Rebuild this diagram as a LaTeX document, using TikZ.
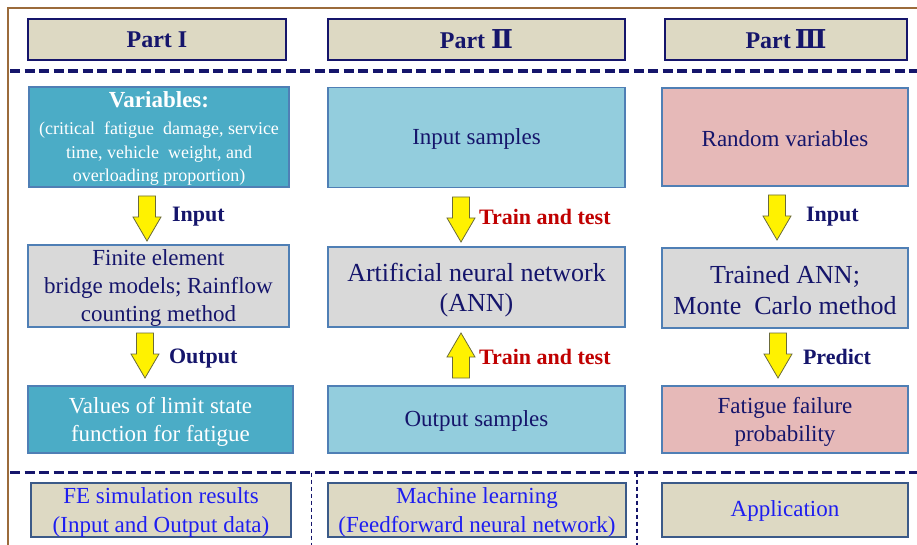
\documentclass[tikz,border=0pt]{standalone}
\usepackage{fontspec}
\setmainfont{Liberation Serif}
\newfontfamily\numfont{DejaVu Serif}
\definecolor{framebrown}{HTML}{9B6B3B}
\definecolor{navy}{HTML}{15156B}
\definecolor{tanfill}{HTML}{DDD9C3}
\definecolor{tealfill}{HTML}{4BACC6}
\definecolor{lightblue}{HTML}{93CDDD}
\definecolor{pinkfill}{HTML}{E6B9B8}
\definecolor{grayfill}{HTML}{D9D9D9}
\definecolor{steel}{HTML}{4F7FB5}
\definecolor{darkred}{HTML}{C00000}
\definecolor{bluetext}{HTML}{1E1EF0}
\definecolor{slateedge}{HTML}{3B5A88}
\definecolor{arrowedge}{HTML}{6B6B3A}
\begin{document}
\begin{tikzpicture}[x=1pt,y=-1pt,
  every node/.style={inner sep=0pt,outer sep=0pt,align=center},
  hdr/.style={draw=navy,line width=2.2pt,fill=tanfill,text=navy,
    font=\fontsize{24}{28}\selectfont\bfseries},
  mainbox/.style={draw=steel,line width=1.1pt,text=navy,
    font=\fontsize{23}{28}\selectfont},
  tealbox/.style={mainbox,fill=tealfill,text=white},
  lbbox/.style={mainbox,fill=lightblue},
  pkbox/.style={mainbox,fill=pinkfill},
  grbox/.style={mainbox,fill=grayfill},
  boxtext/.style={text=navy,font=\fontsize{23}{28}\selectfont},
  botbox/.style={draw=slateedge,line width=2.6pt,fill=tanfill},
  bottext/.style={text=bluetext,font=\fontsize{23}{29}\selectfont},
  lab/.style={anchor=west,text=navy,font=\fontsize{22}{26}\selectfont\bfseries},
  redlab/.style={lab,text=darkred},
  arr/.style={fill=yellow,draw=arrowedge,line width=0.8pt,line join=miter},
  sepline/.style={draw=navy,line width=3.5pt,dash pattern=on 10pt off 4.5pt},
  vsep/.style={draw=navy,line width=1.1pt,dash pattern=on 4pt off 3pt},
  downarr/.pic={\path[arr] (-8.5,0) -- (8.5,0) -- (8.5,21) -- (14,21) -- (0,45)
     -- (-14,21) -- (-8.5,21) -- cycle;},
  uparr/.pic={\path[arr] (-8.5,45) -- (8.5,45) -- (8.5,24) -- (14,24) -- (0,0)
     -- (-14,24) -- (-8.5,24) -- cycle;}
]
\useasboundingbox (0,0) rectangle (917,545);
\clip (0,0) rectangle (917,545);
\fill[white] (0,0) rectangle (917,545);
% outer frame
\draw[framebrown,line width=2pt] (8,8) rectangle (940,570);

% headers
\node[hdr,minimum width=258pt,minimum height=41pt] (h1) at (157,39.5) {Part I};
\node[hdr,minimum width=297pt,minimum height=41pt] (h2) at (476.5,39.5) {Part {\numfont\bfseries\fontsize{26}{28}\selectfont Ⅱ}};
\node[hdr,minimum width=242pt,minimum height=41pt] (h3) at (786,39.5) {Part\,{\numfont\bfseries\fontsize{26}{28}\selectfont Ⅲ}};

% separators
\coordinate (s1l) at (10,71);
\coordinate (s1r) at (917,71);
\coordinate (s2l) at (10,472.5);
\coordinate (s2r) at (917,472.5);
\coordinate (v1t) at (311.5,472.5);
\coordinate (v1b) at (311.5,545);
\coordinate (v2t) at (637,472.5);
\coordinate (v2b) at (637,545);
\draw[sepline] (s1l) -- (s1r);
\draw[sepline] (s2l) -- (s2r);
\draw[vsep] (v1t) -- (v1b);
\draw[vsep] (v2t) -- (v2b);

% row 1
\node[tealbox,minimum width=260pt,minimum height=100pt] (var) at (159,137) {};
\node[text=white,font=\fontsize{23}{26}\selectfont\bfseries,anchor=base] (vart) at (159,108) {Variables:};
\node[text=white,font=\fontsize{18}{23.5}\selectfont] (vard) at (159,154) {(critical~ fatigue~ damage, service\\ time, vehicle~ weight, and\\ overloading proportion)};
\node[lbbox,minimum width=297pt,minimum height=100pt] (ins) at (476.5,137.5) {};
\node[boxtext] at (476.5,139) {Input samples};
\node[pkbox,minimum width=246pt,minimum height=98pt] (rv) at (785,137) {};
\node[boxtext] at (785,138.5) {Random variables};

% row 2
\node[grbox,minimum width=261pt,minimum height=82pt] (fe) at (158.5,286) {};
\node[boxtext] at (158.5,288) {Finite element\\ bridge models; Rainflow\\ counting method};
\node[grbox,minimum width=297pt,minimum height=80pt] (ann) at (476.5,287) {};
\node[boxtext,font=\fontsize{26}{30}\selectfont] at (476.5,290) {Artificial neural network\\ (ANN)};
\node[grbox,minimum width=246pt,minimum height=80pt] (tann) at (785,288) {};
\node[boxtext,font=\fontsize{26}{31}\selectfont] at (785,290) {Trained ANN;\\ Monte~ Carlo method};

% row 3
\node[tealbox,minimum width=265pt,minimum height=67pt] (val) at (160.5,419.5) {};
\node[boxtext,text=white] at (160.5,421.5) {Values of limit state\\ function for fatigue};
\node[lbbox,minimum width=297pt,minimum height=67pt] (outs) at (476.5,419.5) {};
\node[boxtext] at (476.5,421) {Output samples};
\node[pkbox,minimum width=246pt,minimum height=67pt] (ffp) at (785,419.5) {};
\node[boxtext] at (785,421.5) {Fatigue failure\\ probability};

% bottom row
\node[botbox,minimum width=260pt,minimum height=54pt] (b1) at (161,510) {};
\node[bottext] at (161,512) {FE simulation results\\ (Input and Output data)};
\node[botbox,minimum width=298pt,minimum height=54pt] (b2) at (477,510) {};
\node[bottext] at (477,512) {Machine learning\\ (Feedforward neural network)};
\node[botbox,minimum width=246pt,minimum height=54pt] (b3) at (785,510) {};
\node[bottext] at (785,511) {Application};

% arrows
\pic at (147,196) {downarr};
\pic at (145,333) {downarr};
\pic at (461,197) {downarr};
\pic at (461,333) {uparr};
\pic at (777,195) {downarr};
\pic at (778,333) {downarr};

% arrow labels
\node[lab] (l1) at (172,217) {Input};
\node[lab] (l2) at (169,359) {Output};
\node[redlab] (l3) at (479,217) {Train and test};
\node[redlab] (l4) at (479,357) {Train and test};
\node[lab] (l5) at (806,217) {Input};
\node[lab] (l6) at (803,357) {Predict};
\end{tikzpicture}
\end{document}
